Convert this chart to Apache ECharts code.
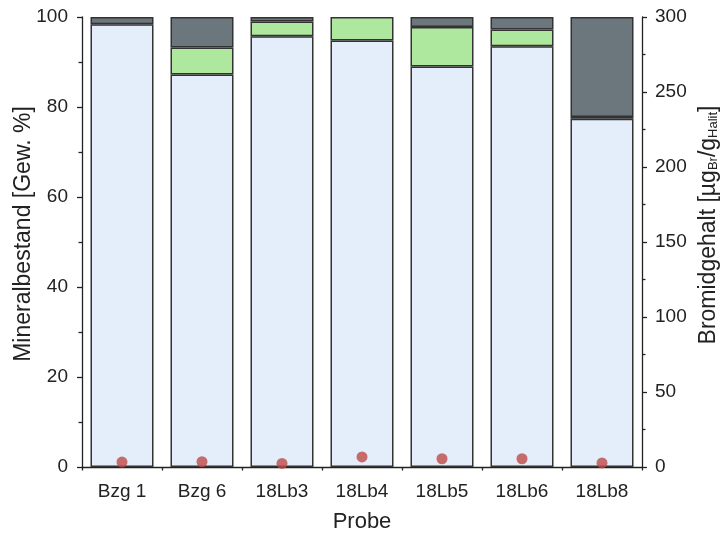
<!DOCTYPE html>
<html>
<head>
<meta charset="utf-8">
<script src="https://cdn.jsdelivr.net/npm/echarts@6/dist/echarts.min.js"></script>
<style>
  html, body { margin: 0; padding: 0; background: #fff; }
  #chart { width: 720px; height: 537px; }
</style>
</head>
<body>
<div id="chart"></div>
<script>
// Samples along the x axis
const categories = ['Bzg 1', 'Bzg 6', '18Lb3', '18Lb4', '18Lb5', '18Lb6', '18Lb8'];
// Mineral composition, stacked bottom to top [wt. %]
const halit = [98.4, 87.2, 95.7, 94.8, 89.0, 93.5, 77.4];
const gruen = [null, 6.0, 3.3, 5.2, 8.8, 3.7, 0.4];
const grau = [1.6, 6.8, 1.0, null, 2.2, 2.8, 22.2];
// Bromide content [µg Br / g halite]
const bromid = [3.3, 3.5, 2.4, 6.7, 5.5, 5.5, 2.7];
// Axis ticks
const leftTicks = { min: 0, max: 100, interval: 20 };
const rightTicks = { min: 0, max: 300, interval: 50 };

const FONT = 'Liberation Sans';
const TXT = '#222';
const AXIS = '#222';
const barBorder = { borderColor: '#333', borderWidth: 1.5 };

const chart = echarts.init(document.getElementById('chart'), null, { renderer: 'canvas' });

function barSeries(name, data, color) {
  return {
    name, type: 'bar', stack: 'mineral', data,
    xAxisIndex: 0, yAxisIndex: 0,
    barWidth: 63,
    itemStyle: Object.assign({ color }, barBorder),
    z: 2
  };
}

chart.setOption({
  animation: false,
  textStyle: { fontFamily: FONT, color: TXT },
  grid: { left: 82, right: 78, top: 17, bottom: 70, containLabel: false, outerBoundsMode: 'none' },
  xAxis: [
    {
      type: 'category', data: categories, position: 'bottom',
      name: 'Probe', nameLocation: 'middle', nameGap: 44,
      nameTextStyle: { fontFamily: FONT, fontSize: 22, color: TXT },
      axisLine: { lineStyle: { color: AXIS, width: 1.3 } },
      axisTick: { alignWithLabel: true, length: 6, lineStyle: { color: AXIS, width: 1.3 } },
      axisLabel: { fontFamily: FONT, fontSize: 19, color: TXT, margin: 15 },
      splitLine: { show: false }
    },
    {
      // boundary ticks between samples
      type: 'category', data: categories, position: 'bottom',
      axisLine: { show: false },
      axisTick: { show: true, length: 3.5, lineStyle: { color: AXIS, width: 1.3 } },
      axisLabel: { show: false },
      splitLine: { show: false }
    }
  ],
  yAxis: [
    {
      type: 'value', position: 'left',
      min: leftTicks.min, max: leftTicks.max, interval: leftTicks.interval,
      name: 'Mineralbestand [Gew. %]', nameLocation: 'middle', nameGap: 47,
      nameMoveOverlap: false,
      nameTextStyle: { fontFamily: FONT, fontSize: 23, color: TXT, padding: [0, 0, 0, 16] },
      axisLine: { show: true, lineStyle: { color: AXIS, width: 1.3 } },
      axisTick: { show: true, length: 5, lineStyle: { color: AXIS, width: 1.3 } },
      minorTick: { show: true, splitNumber: 2, length: 3.5, lineStyle: { color: AXIS, width: 1.3 } },
      axisLabel: { fontFamily: FONT, fontSize: 19, color: TXT, margin: 14 },
      splitLine: { show: false }
    },
    {
      type: 'value', position: 'right',
      min: rightTicks.min, max: rightTicks.max, interval: rightTicks.interval,
      name: '{n|Bromidgehalt [µg}{s|Br}{n|/g}{s|Halit}{n|]}',
      nameLocation: 'middle', nameGap: 55, nameRotate: 90,
      nameMoveOverlap: false,
      nameTextStyle: {
        fontFamily: FONT, fontSize: 23, color: TXT, padding: [0, 0, 0, 34],
        rich: {
          n: { fontFamily: FONT, fontSize: 23, color: TXT },
          s: { fontFamily: FONT, fontSize: 13, color: TXT, verticalAlign: 'bottom', padding: [10, 0, 0, 0] }
        }
      },
      axisLine: { show: true, lineStyle: { color: AXIS, width: 1.3 } },
      axisTick: { show: true, length: 5, lineStyle: { color: AXIS, width: 1.3 } },
      minorTick: { show: true, splitNumber: 2, length: 3.5, lineStyle: { color: AXIS, width: 1.3 } },
      axisLabel: { fontFamily: FONT, fontSize: 19, color: TXT, margin: 13 },
      splitLine: { show: false }
    }
  ],
  series: [
    barSeries('Halit', halit, '#e3eefa'),
    barSeries('Grün', gruen, '#aee89e'),
    barSeries('Grau', grau, '#6b767d'),
    {
      name: 'Bromid', type: 'scatter', data: bromid,
      xAxisIndex: 0, yAxisIndex: 1,
      symbol: 'circle', symbolSize: 11,
      itemStyle: { color: '#bd4a47' },
      z: 5
    }
  ]
});
</script>
</body>
</html>
